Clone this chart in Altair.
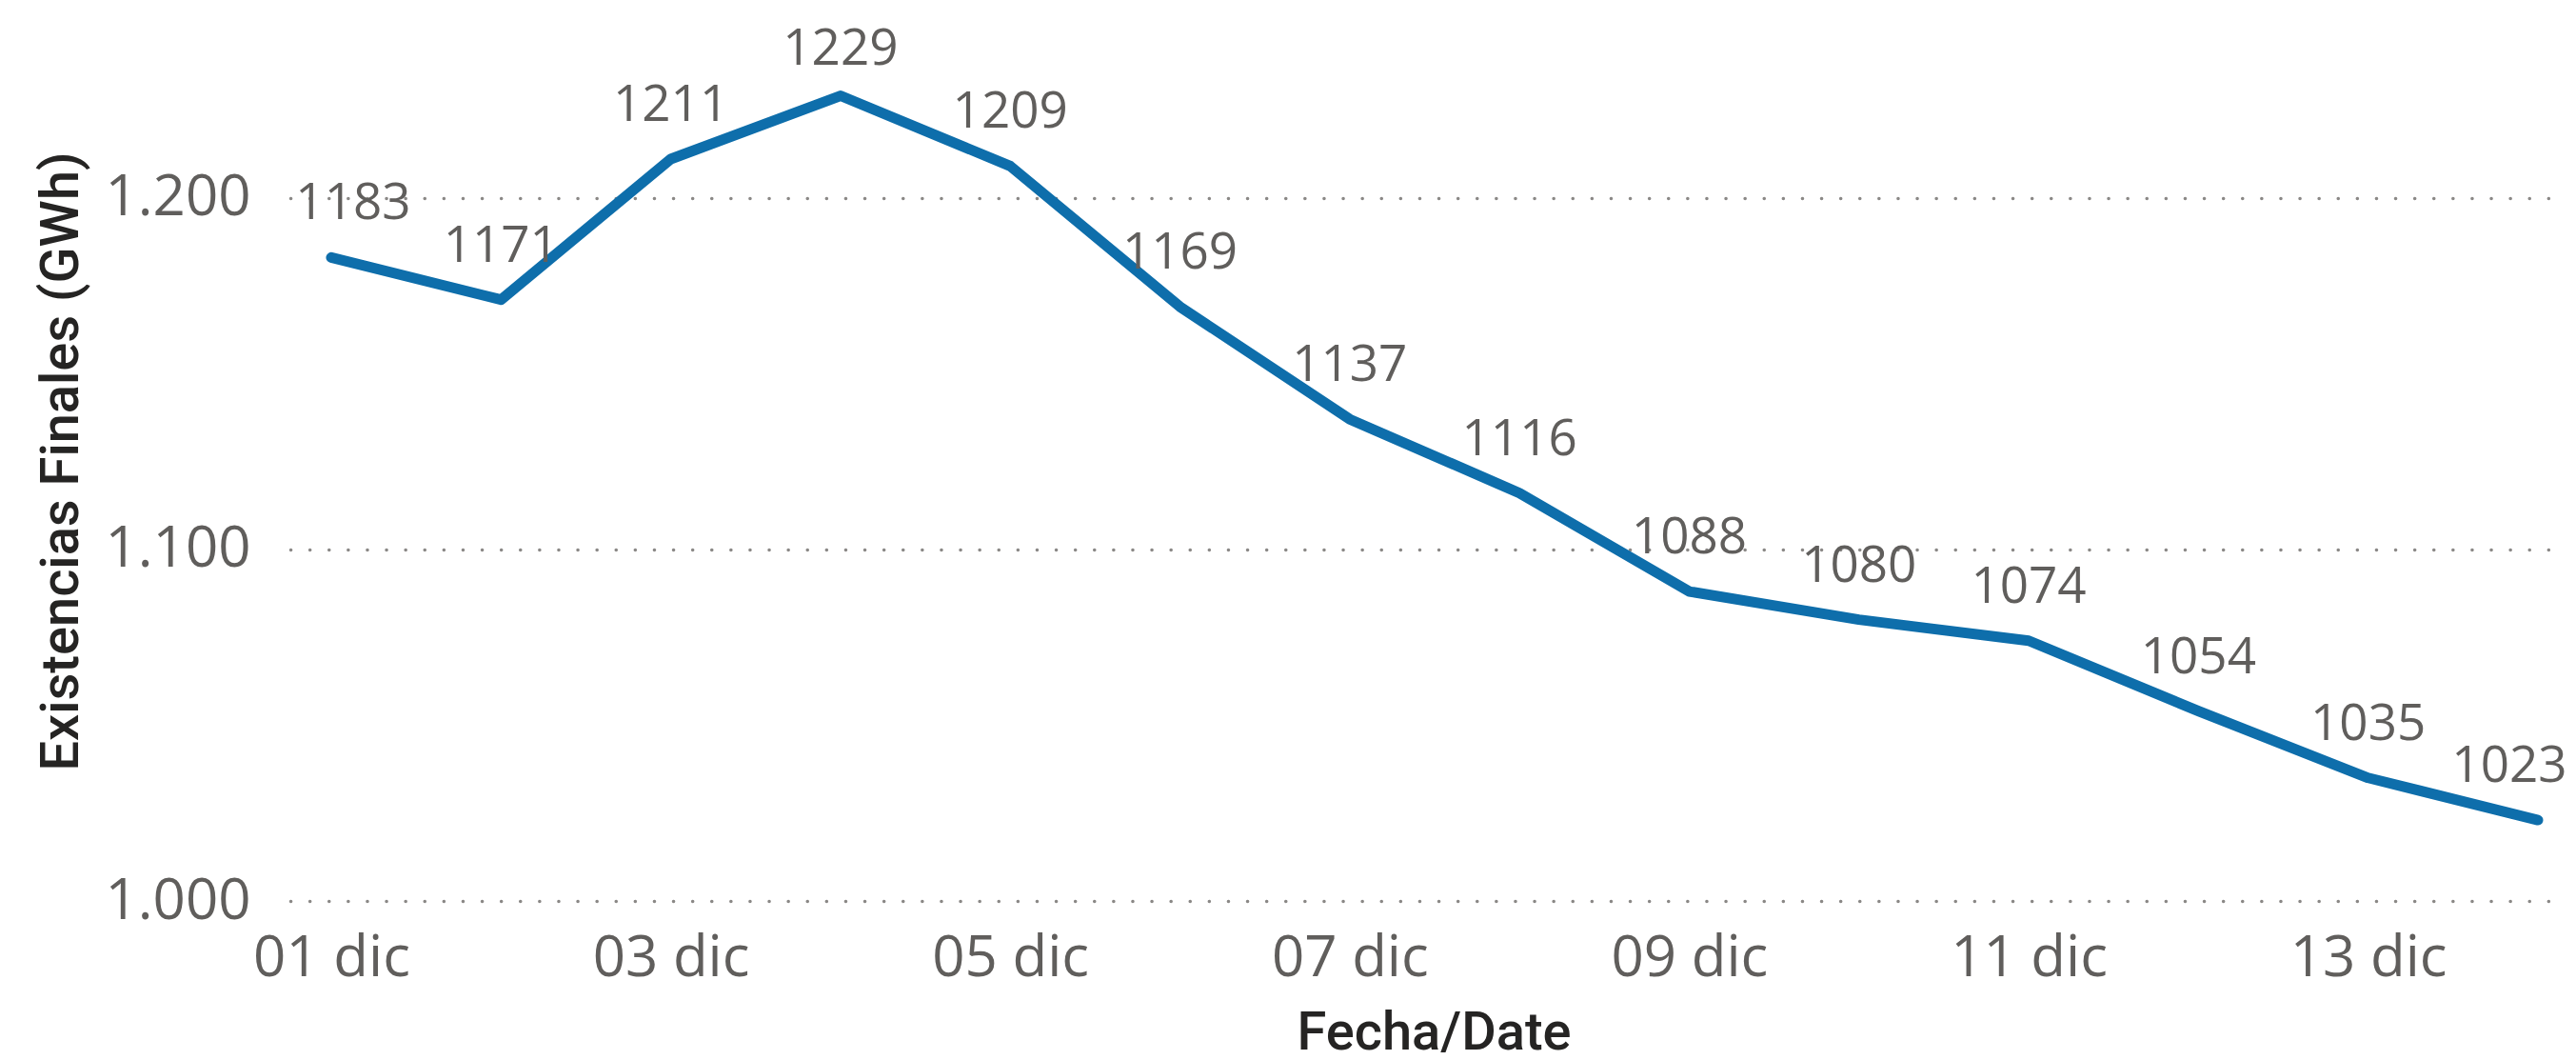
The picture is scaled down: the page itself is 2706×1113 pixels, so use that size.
import altair as alt
import pandas as pd

# ---- data ----
fechas = ["2024-12-01", "2024-12-02", "2024-12-03", "2024-12-04", "2024-12-05",
          "2024-12-06", "2024-12-07", "2024-12-08", "2024-12-09", "2024-12-10",
          "2024-12-11", "2024-12-12", "2024-12-13", "2024-12-14"]
existencias = [1183, 1171, 1211, 1229, 1209, 1169, 1137, 1116, 1088, 1080,
               1074, 1054, 1035, 1023]
x_tick_days = [1, 3, 5, 7, 9, 11, 13]
y_ticks = [1000, 1100, 1200]
y_title = "Existencias Finales (GWh)"
x_title = "Fecha/Date"

df = pd.DataFrame({"fecha": fechas, "valor": existencias})

x_domain = [alt.DateTime(year=2024, month=11, date=30, hours=18, minutes=13, utc=True),
            alt.DateTime(year=2024, month=12, date=14, hours=3, minutes=14, utc=True)]
x_values = [alt.DateTime(year=2024, month=12, date=d, utc=True) for d in x_tick_days]

LABEL_COLOR = "#605E5C"
TITLE_COLOR = "#252423"
N = len(existencias)

x_enc = alt.X(
    "fecha:T",
    scale=alt.Scale(type="utc", domain=x_domain, nice=False),
    axis=alt.Axis(
        values=x_values,
        labelExpr="utcFormat(datum.value, '%d') + ' dic'",
        grid=False, domain=False, ticks=False, tickSize=0,
        labelFont="Open Sans", labelFontSize=60, labelColor=LABEL_COLOR,
        labelBaseline="alphabetic", labelPadding=78, labelOverlap=False,
        labelFlush=False,
        title=x_title, titleFont="Roboto", titleFontSize=56,
        titleFontWeight=500, titleColor=TITLE_COLOR,
        titleX=1201, titleY=155, titleAlign="center", titleBaseline="alphabetic",
        titleAngle=0,
    ),
)

y_enc = alt.Y(
    "valor:Q",
    scale=alt.Scale(domain=[1000, 1250], nice=False, zero=False),
    axis=alt.Axis(
        values=y_ticks,
        labelExpr="replace(format(datum.value, ','), ',', '.')",
        grid=True, gridDash=[0.1, 20], gridCap="round", gridWidth=3.5,
        gridColor="#8A8886",
        domain=False, ticks=False, tickSize=0,
        labelFont="Open Sans", labelFontSize=60, labelColor=LABEL_COLOR,
        labelPadding=42,
        title=y_title, titleFont="Roboto", titleFontSize=56,
        titleFontWeight=500, titleColor=TITLE_COLOR,
        titleX=-224, titleY=461, titleAngle=270, titleAlign="center",
        titleBaseline="alphabetic",
    ),
)

base = alt.Chart(df).encode(x=x_enc, y=y_enc)

line = base.mark_line(color="#0E6EAB", strokeWidth=11, strokeCap="round",
                      strokeJoin="round")

text_props = dict(font="Open Sans", fontSize=53, color=LABEL_COLOR,
                  baseline="alphabetic", align="center")

ranked = base.transform_window(idx="row_number()").transform_joinaggregate(
    vmax="max(valor)"
)

labels_mid = ranked.transform_filter(
    f"datum.idx > 1 && datum.idx < {N} && datum.valor < datum.vmax"
).mark_text(dy=-40, **text_props).encode(text="valor:Q")

labels_top = ranked.transform_filter(
    f"datum.idx > 1 && datum.idx < {N} && datum.valor == datum.vmax"
).mark_text(dy=-33, **text_props).encode(text="valor:Q")

labels_first = ranked.transform_filter("datum.idx == 1").mark_text(
    dy=-40, dx=23, **text_props).encode(text="valor:Q")

labels_last = ranked.transform_filter(f"datum.idx == {N}").mark_text(
    dy=-40, dx=-30, **text_props).encode(text="valor:Q")

chart = alt.layer(line, labels_mid, labels_top, labels_first, labels_last).properties(
    width=2385,
    height=923,
    autosize=alt.AutoSizeParams(type="none"),
    padding={"left": 297, "top": 15, "right": 8, "bottom": 175},
    background="white",
).configure_view(stroke=None)

chart.save("out.html", embed_options={"renderer": "svg", "actions": False})
